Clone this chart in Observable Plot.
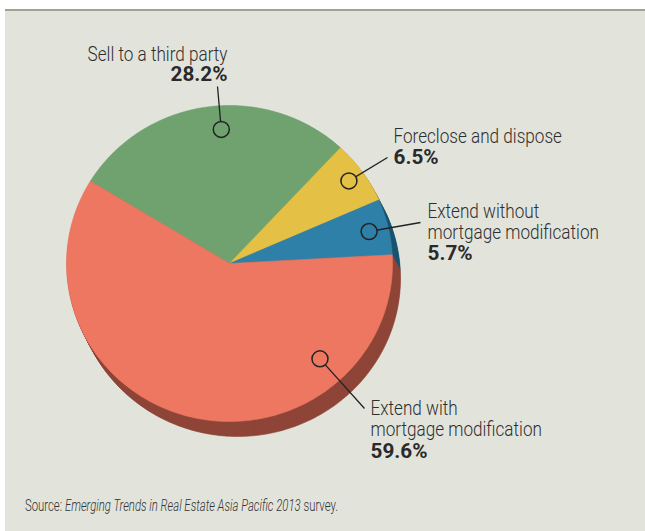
<!DOCTYPE html>
<html><head><meta charset="utf-8">
<script src="https://cdn.jsdelivr.net/npm/d3@7"></script>
<script src="https://cdn.jsdelivr.net/npm/@observablehq/plot@0.6"></script>
<style>
html,body{margin:0;padding:0;background:#fff;width:645px;height:531px;overflow:hidden}
#panel{position:absolute;left:5px;top:9px;width:640px;height:522px;background:#e2e4dc;border-top:2px solid #a0a38f;box-sizing:border-box}
#chart{position:absolute;left:0;top:0}
#caption{position:absolute;left:25px;top:495px;font-size:17px;font-weight:300;font-family:Roboto,"Liberation Sans",sans-serif;color:#333;white-space:nowrap;transform-origin:0 0}
</style></head><body>
<div id="panel"></div>
<div id="chart"></div>
<div id="caption"><span id="captext">Source: <i>Emerging Trends in Real Estate Asia Pacific 2013</i> survey.</span></div>
<script>
// ---- data ----
const categories = ["Sell to a third party", "Foreclose and dispose", "Extend without\nmortgage modification", "Extend with\nmortgage modification"];
const shares = [28.2, 6.5, 5.7, 59.6];
const shareLabels = ["28.2%", "6.5%", "5.7%", "59.6%"];

// ---- styles ----
const topColors = ["#6fa26f", "#e4c145", "#2f80a8", "#ed7761"];
const wallColors = ["#4e7a4e", "#a68b2d", "#1a5472", "#8e4537"];

// ---- layout (scale units: identity pixel-like space) ----
const W = 645, H = 490;
const cx = 229, cy = 263, rx = 163, ry = 158;
const depthX = 8, depthY = 15, depthLayers = 16;
const startDeg = -58.6;
const annotationLayout = [
  {angle: -3.4, radius: 0.85, lineEnd: [217, 86], labelAt: [227, 60], pctAt: [227, 80], anchor: "end"},
  {angle: 54.5, radius: 0.90, lineEnd: [387, 157], labelAt: [393, 142], pctAt: [393, 163], anchor: "start"},
  {angle: 76.7, radius: 0.88, lineEnd: [420, 222], labelAt: [427, 238], pctAt: [427, 259], anchor: "start"},
  {angle: 137.4, radius: 0.82, lineEnd: [364, 408], labelAt: [370, 435], pctAt: [370, 457], anchor: "start"}
];
// target widths, used to condense the text horizontally
const labelRefWidth = 140, pctRefWidth = 57, captionRefWidth = 313;

const data = categories.map((c, i) => ({category: c, share: shares[i], pct: shareLabels[i], i}));
const start = startDeg * Math.PI / 180;
const slices = d3.pie().sort(null).value(d => d.share).startAngle(start).endAngle(start + 2 * Math.PI)(data);

function outline(s, key, color, ox, oy) {
  const pts = [{key, color, x: cx + ox, y: cy + oy}];
  const n = Math.max(2, Math.ceil((s.endAngle - s.startAngle) / (Math.PI / 180)));
  for (let k = 0; k <= n; k++) {
    const a = s.startAngle + (s.endAngle - s.startAngle) * k / n;
    pts.push({key, color, x: cx + ox + rx * Math.sin(a), y: cy + oy - ry * Math.cos(a)});
  }
  pts.push({key, color, x: cx + ox, y: cy + oy});
  return pts;
}

const points = [];
for (let t = depthLayers; t >= 1; t--) {
  const ox = depthX * t / depthLayers, oy = depthY * t / depthLayers;
  slices.forEach((s, i) => points.push(...outline(s, `w${t}-${i}`, wallColors[i], ox, oy)));
}
slices.forEach((s, i) => points.push(...outline(s, `t-${i}`, topColors[i], 0, 0)));

const anns = data.map((d, i) => {
  const L = annotationLayout[i];
  const a = L.angle * Math.PI / 180;
  return {
    ...d, color: topColors[i], anchor: L.anchor,
    x: cx + L.radius * rx * Math.sin(a), y: cy - L.radius * ry * Math.cos(a),
    x2: L.lineEnd[0], y2: L.lineEnd[1],
    lx: L.labelAt[0], ly: L.labelAt[1], px: L.pctAt[0], py: L.pctAt[1]
  };
});

const font = "Roboto,'Liberation Sans',sans-serif";
const textMarks = [];
for (const anchor of ["start", "end"]) {
  const sub = anns.filter(d => d.anchor === anchor);
  textMarks.push(
    Plot.text(sub, {x: "lx", y: "ly", text: "category", textAnchor: anchor, lineAnchor: "bottom", lineHeight: 1.05, fontSize: 20, fontWeight: 300, fontFamily: font, fill: "#2e2e2e"}),
    Plot.text(sub, {x: "px", y: "py", text: "pct", textAnchor: anchor, lineAnchor: "bottom", fontSize: 21, fontWeight: "bold", fontFamily: font, fill: "#2a2a2a"})
  );
}

const chart = Plot.plot({
  width: W, height: H, margin: 0,
  x: {domain: [0, W], range: [0, W], axis: null},
  y: {domain: [0, H], range: [0, H], axis: null},
  color: {type: "identity"},
  style: {background: "transparent", overflow: "visible"},
  marks: [
    Plot.line(points, {x: "x", y: "y", z: "key", fill: "color", stroke: "color", strokeWidth: 0.6, curve: "linear"}),
    Plot.link(anns, {x1: "x", y1: "y", x2: "x2", y2: "y2", stroke: "#222", strokeWidth: 1.3}),
    Plot.dot(anns, {x: "x", y: "y", r: 8, fill: "color", stroke: "#222", strokeWidth: 1.5}),
    ...textMarks
  ]
});
document.getElementById("chart").appendChild(chart);

// condense text horizontally to match the narrow typeface of the reference
const texts = [...chart.querySelectorAll("text")];
const refLabel = texts.find(t => t.textContent === categories[0]);
const refPct = texts.find(t => t.textContent === shareLabels[0]);
const sLabel = refLabel ? labelRefWidth / refLabel.getComputedTextLength() : 0.8;
const sPct = refPct ? pctRefWidth / refPct.getComputedTextLength() : 0.9;
texts.forEach(t => {
  const s = shareLabels.includes(t.textContent) ? sPct : sLabel;
  const x = +t.getAttribute("x") || 0, y = +t.getAttribute("y") || 0;
  const tr = t.getAttribute("transform") || "";
  t.setAttribute("transform", `${tr} translate(${x},${y}) scale(${s},1) translate(${-x},${-y})`);
});
const cap = document.getElementById("caption");
const cw = document.getElementById("captext").getBoundingClientRect().width;
cap.style.transform = `scale(${captionRefWidth / cw},1)`;
</script>
</body></html>
